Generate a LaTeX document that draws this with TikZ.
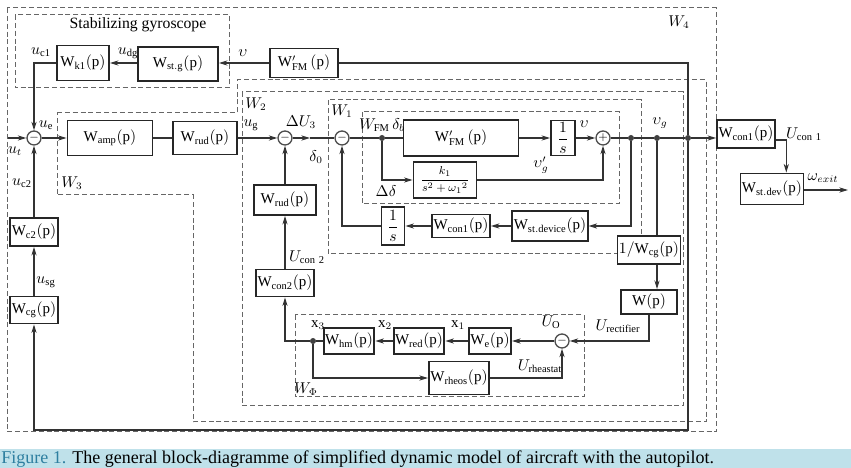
\documentclass[tikz,border=0pt]{standalone}
\usepackage{fontspec}
\setmainfont{Liberation Serif}
\usepackage{amsmath}
\usetikzlibrary{arrows.meta}

\definecolor{capband}{HTML}{BFE1EA}
\definecolor{capblue}{HTML}{2E7FA0}

\tikzset{
  blk/.style={draw=black!85, line width=1.3pt, fill=white, inner sep=1pt,
    font=\fontsize{10.5}{12}\selectfont},
  sumc/.style={circle, draw=black!70, line width=0.9pt, fill=white,
    minimum size=9.8pt, inner sep=0pt, font=\fontsize{8}{8}\selectfont},
  jdot/.style={circle, fill=black!75, inner sep=0pt, minimum size=4.2pt},
  wire/.style={draw=black!80, line width=0.9pt},
  sig/.style={wire, -{Stealth[length=6pt,width=3.6pt,inset=1.8pt]}},
  frame/.style={draw=black!60, line width=0.7pt, dash pattern=on 3.5pt off 2pt},
  lbl/.style={inner sep=0pt, font=\fontsize{10.5}{12}\selectfont},
}
\newcommand{\Wp}[1]{$\mathrm{W}_{\mathrm{#1}}(\mathrm{p})$}

\begin{document}
\begin{tikzpicture}[x=0.7pt,y=-0.7pt]
\useasboundingbox (0,0) rectangle (851,468);

% dashed frames
\draw[frame] (7,8) rectangle (716,432);
\draw[frame] (15,15) rectangle (229,88);
\draw[frame] (57,113) -- (237,113) -- (237,80) -- (706,80) -- (706,422)
  -- (193,422) -- (193,195) -- (57,195) -- cycle;
\draw[frame] (242,92) rectangle (683,406);
\draw[frame] (328,100) rectangle (641,254);
\draw[frame] (362,112) rectangle (619,204);
\draw[frame] (295,315) rectangle (584,397);

% stabilizing gyroscope
\node[blk, minimum width=36.4pt, minimum height=24.5pt] (k1) at (83,63) {\Wp{k1}};
\node[blk, minimum width=56pt, minimum height=23.5pt] (stg) at (178,64) {\Wp{st.g}};
\node[blk, minimum width=47.6pt, minimum height=20.3pt] (fmtop) at (304,63)
  {$\mathrm{W}'_{\mathrm{FM}}\,(\mathrm{p})$};

% main channel
\node[sumc] (s1) at (34,138) {$-$};
\node[blk, minimum width=59.5pt, minimum height=24.5pt] (amp) at (110,138) {\Wp{amp}};
\node[blk, minimum width=44.8pt, minimum height=23.1pt] (rud) at (205,138) {\Wp{rud}};
\node[sumc] (s2) at (285,138) {$-$};
\node[sumc] (s3) at (342,138) {$-$};
\node[jdot] (jb) at (382,138) {};
\node[blk, minimum width=80.5pt, minimum height=25.2pt] (fm) at (461,138)
  {$\mathrm{W}'_{\mathrm{FM}}\,(\mathrm{p})$};
\node[blk, minimum width=16.8pt, minimum height=24.5pt] (ints) at (563,138) {$\dfrac{1}{s}$};
\node[sumc] (s4) at (603,138) {$+$};
\node[jdot] (j1) at (631,138) {};
\node[jdot] (j2) at (657,138) {};
\node[jdot] (j3) at (688,138) {};
\node[blk, minimum width=37.1pt, minimum height=19.6pt] (con1) at (746,134) {\Wp{con1}};
\node[blk, minimum width=42.7pt, minimum height=21.7pt] (stdev) at (772,189) {\Wp{st.dev}};
\coordinate (in) at (8,138);
\coordinate (out) at (848,190);
\coordinate (du3) at (310,138);

% inner loops
\node[blk, minimum width=44.1pt, minimum height=25.2pt, font=\fontsize{8}{9}\selectfont] (osc) at (445,180)
  {$\dfrac{k_1}{s^2+{\omega_1}^{2}}$};
\node[blk, minimum width=46.2pt, minimum height=21pt] (stdevice) at (550,226) {\Wp{st.device}};
\node[blk, minimum width=38.5pt, minimum height=16.1pt] (con1b) at (461,226) {\Wp{con1}};
\node[blk, minimum width=16.1pt, minimum height=26.6pt] (intb) at (393,226) {$\dfrac{1}{s}$};
\node[blk, minimum width=43.4pt, minimum height=21pt] (rud2) at (285,200) {\Wp{rud}};
\node[blk, minimum width=39.2pt, minimum height=18.9pt] (con2) at (285,283) {\Wp{con2}};

% exciter loop
\node[blk, minimum width=39.2pt, minimum height=19.6pt] (invcg) at (649,250)
  {$1/\mathrm{W}_{\mathrm{cg}}(\mathrm{p})$};
\node[blk, minimum width=39.2pt, minimum height=16.8pt] (wp) at (649,302) {$\mathrm{W}(\mathrm{p})$};
\node[sumc] (s5) at (562,341) {$-$};
\node[blk, minimum width=27.3pt, minimum height=18.2pt] (we) at (490,341) {\Wp{e}};
\node[blk, minimum width=33.6pt, minimum height=18.2pt] (red) at (419,341) {\Wp{red}};
\node[blk, minimum width=34.3pt, minimum height=18.2pt] (hm) at (349,341) {\Wp{hm}};
\node[jdot] (jx) at (313,341) {};
\node[blk, minimum width=39.9pt, minimum height=23.1pt] (rheos) at (459,378) {\Wp{rheos}};

% correcting gyroscope branch
\node[blk, minimum width=33.6pt, minimum height=19.6pt] (c2) at (34,232) {\Wp{c2}};
\node[blk, minimum width=31.5pt, minimum height=18.9pt] (cg) at (34,310) {\Wp{cg}};
\coordinate (fb) at (688,430);

% connections
\draw[sig] (in) -- (s1.west);
\draw[sig] (k1.west) -| (s1.north);
\draw[sig] (stg.west |- k1) -- (k1.east);
\draw[sig] (fmtop.west) -- (stg.east |- fmtop);
\draw[sig] (s1.east) -- (amp.west);
\draw[wire] (amp.east) -- (rud.west);
\draw[sig] (rud.east) -- (s2.west);
\draw[sig] (s2.east) -- (du3);
\draw[wire] (du3) -- (s3.west);
\draw[wire] (s3.east) -- (jb) -- (fm.west);
\draw[sig] (fm.east) -- (ints.west);
\draw[sig] (ints.east) -- (s4.west);
\draw[sig] (jb) |- (osc.west);
\draw[sig] (osc.east) -| (s4.south);
\draw[wire] (s4.east) -- (j1) -- (j2) -- (j3);
\draw[sig] (j3) -- (con1.west |- j3);
\draw[sig] (j1) |- (stdevice.east);
\draw[sig] (stdevice.west) -- (con1b.east);
\draw[sig] (con1b.west) -- (intb.east);
\draw[sig] (intb.west) -| (s3.south);
\draw[wire] (j2) -- (j2 |- invcg.north);
\draw[sig] (j2 |- invcg.south) -- (j2 |- wp.north);
\draw[sig] (wp.south) |- (s5.east);
\draw[sig] (s5.west) -- (we.east);
\draw[sig] (we.west) -- (red.east);
\draw[sig] (red.west) -- (hm.east);
\draw[wire] (hm.west) -- (jx);
\draw[sig] (jx) -| (con2.south);
\draw[sig] (jx) |- (rheos.west);
\draw[sig] (rheos.east) -| (s5.south);
\draw[sig] (con2.north) -- (rud2.south);
\draw[sig] (rud2.north) -- (s2.south);
\draw[wire] (j3) |- (fmtop.east);
\draw[sig] (j3) -- (fb) -| (cg.south);
\draw[sig] (cg.north) -- (c2.south);
\draw[sig] (c2.north) -- (s1.south);
\draw[sig] (con1.east |- 0,140) -| ([xshift=10pt]stdev.north);
\draw[sig] (stdev.east |- out) -- (out);

% signal labels
\node[lbl] at (138,25) {\fontsize{11}{13}\selectfont Stabilizing gyroscope};
\node[lbl] at (41,52) {$u_{\mathrm{c1}}$};
\node[lbl] at (128,53) {$u_{\mathrm{dg}}$};
\node[lbl] at (243,53) {$\upsilon$};
\node[lbl] at (15,151) {$u_t$};
\node[lbl] at (46,125) {$u_{\mathrm{e}}$};
\node[lbl] at (22,183) {$u_{\mathrm{c2}}$};
\node[lbl] at (46,282) {$u_{\mathrm{sg}}$};
\node[lbl] at (251,125) {$u_{\mathrm{g}}$};
\node[lbl] at (301,122) {$\Delta U_3$};
\node[lbl] at (316,157) {$\delta_0$};
\node[lbl] at (382,125) {$W_{\mathrm{FM}}\,\delta_b$};
\node[lbl] at (584,124) {$\upsilon$};
\node[lbl] at (386,191) {$\Delta\delta$};
\node[lbl] at (541,165) {$\upsilon'_g$};
\node[lbl] at (660,123) {$\upsilon_g$};
\node[lbl] at (804,134) {$U_{\mathrm{con\ 1}}$};
\node[lbl] at (823,178) {$\omega_{exit}$};
\node[lbl] at (307,257) {$U_{\mathrm{con\ 2}}$};
\node[lbl] at (318,325) {$\mathrm{x}_3$};
\node[lbl] at (385,325) {$\mathrm{x}_2$};
\node[lbl] at (458,325) {$\mathrm{x}_1$};
\node[lbl] at (551,322) {$U_{\mathrm{O}}$};
\node[lbl] at (618,326) {$U_{\mathrm{rectifier}}$};
\node[lbl] at (540,366) {$U_{\mathrm{rheastat}}$};

% frame names
\node[lbl] at (72,183) {$W_3$};
\node[lbl] at (256,104) {$W_2$};
\node[lbl] at (342,111) {$W_1$};
\node[lbl] at (679,22) {$W_4$};
\node[lbl] at (306,389) {$W_{\Phi}$};

% caption band
\fill[capband] (0,449) rectangle (851,468);
\node[anchor=west, inner sep=0pt, font=\fontsize{12.6}{14}\selectfont] (cap) at (1,459)
  {\textcolor{capblue}{Figure 1.} The general block-diagramme of simplified dynamic model of aircraft with the autopilot.};
\end{tikzpicture}
\end{document}
